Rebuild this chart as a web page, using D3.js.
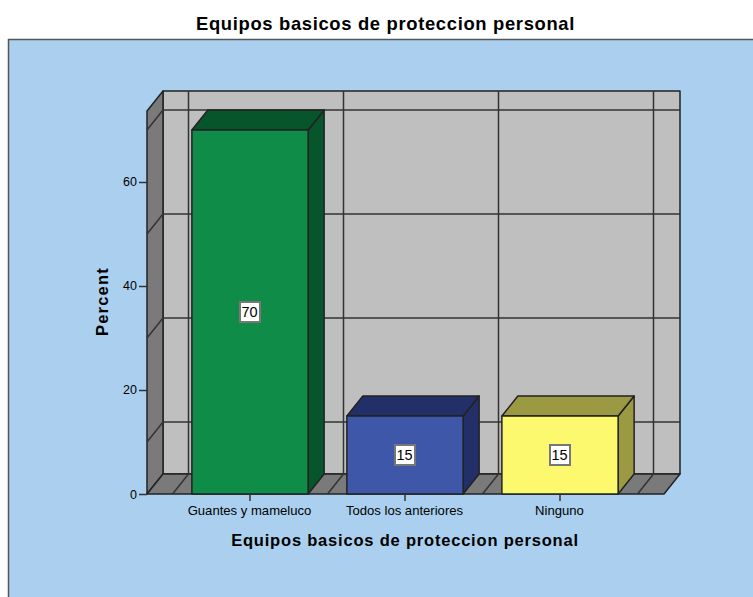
<!DOCTYPE html>
<html><head><meta charset="utf-8">
<script src="https://cdn.jsdelivr.net/npm/d3@7/dist/d3.min.js"></script>
<style>html,body{margin:0;padding:0;background:#fff}svg{display:block}text{font-family:"Liberation Sans",Arial,sans-serif;fill:#000}</style>
</head><body><div id="c"></div>
<script>
const categories = ["Guantes y mameluco","Todos los anteriores","Ninguno"];
const percents = [70,15,15];
const labels = ["70","15","15"];
const yTicks = [0,20,40,60];
const gridValues = [10,30,50,70];
const faceColors = ["#0F8C48","#3F57A8","#FDF96F"];
const topColors = ["#07562B","#222F69","#9C9943"];
const title = "Equipos basicos de proteccion personal";

const W=753,H=597,dx=16,dy=-20;
const svg=d3.select("#c").append("svg").attr("width",W).attr("height",H);
const x=d3.scaleBand().domain(categories).range([172.5,637.5]).paddingInner(.25).paddingOuter(.125);
const y=d3.scaleLinear().domain([0,73.65]).range([494,111]);
const x0=147,x1=664,yb=y(0),yt=y(73.65);
const stroke="#222";
const poly=(pts,fill,sw=1.5,st=stroke)=>svg.append("polygon").attr("points",pts.map(p=>p.join(",")).join(" ")).attr("fill",fill).attr("stroke",st).attr("stroke-width",sw).attr("stroke-linejoin","round");
const line=(a,b,sw=1.5,st="#333")=>svg.append("line").attr("x1",a[0]).attr("y1",a[1]).attr("x2",b[0]).attr("y2",b[1]).attr("stroke",st).attr("stroke-width",sw);

svg.append("rect").attr("x",8.5).attr("y",39.5).attr("width",W).attr("height",H).attr("fill","#ABD0EF").attr("stroke","#555").attr("stroke-width",1.5);
svg.append("text").attr("x",385.5).attr("y",30).attr("text-anchor","middle").attr("font-size",18.4).attr("font-weight","bold").attr("letter-spacing",.67).text(title);

// walls
poly([[x0+dx,yt+dy],[x1+dx,yt+dy],[x1+dx,yb+dy],[x0+dx,yb+dy]],"#BFBFBF");
poly([[x0,yt],[x0+dx,yt+dy],[x0+dx,yb+dy],[x0,yb]],"#7A7A7A");
poly([[x0,yb],[x0+dx,yb+dy],[x1+dx,yb+dy],[x1,yb]],"#7A7A7A");

// gridlines
gridValues.forEach(v=>{
  line([x0+dx,y(v)+dy],[x1+dx,y(v)+dy]);
  line([x0,y(v)],[x0+dx,y(v)+dy]);
});
const edges=[...categories.map(c=>x(c)-x.step()*x.paddingInner()/2),x(categories[2])+x.bandwidth()+x.step()*x.paddingInner()/2];
edges.forEach(e=>{
  line([e+dx,yt+dy],[e+dx,yb+dy]);
  line([e+dx,yb+dy],[e,yb]);
});

// bars
categories.forEach((c,i)=>{
  const l=x(c),r=l+x.bandwidth(),t=y(percents[i]);
  poly([[r,t],[r+dx,t+dy],[r+dx,yb+dy],[r,yb]],topColors[i]);
  poly([[l,t],[l+dx,t+dy],[r+dx,t+dy],[r,t]],topColors[i]);
  poly([[l,t],[r,t],[r,yb],[l,yb]],faceColors[i]);
  const cx=(l+r)/2,cy=(t+yb)/2;
  svg.append("rect").attr("x",cx-10).attr("y",cy-10).attr("width",20).attr("height",20).attr("fill","#fff").attr("stroke","#777").attr("stroke-width",2);
  svg.append("text").attr("x",cx-.5).attr("y",cy+5).attr("text-anchor","middle").attr("font-size",14.5).text(labels[i]);
});

// axes
const gy=svg.append("g").attr("transform",`translate(${x0},0)`).call(d3.axisLeft(y).tickValues(yTicks).tickSize(8).tickSizeOuter(0).tickFormat(d3.format("d")));
gy.select(".domain").remove();
gy.selectAll("line").attr("stroke","#333").attr("stroke-width",1.5);
gy.selectAll("text").attr("font-size",12.5).attr("dx",1).style("font-family",'"Liberation Sans"');
const gx=svg.append("g").attr("transform",`translate(0,${yb})`).call(d3.axisBottom(x).tickSize(7).tickSizeOuter(0).tickPadding(5));
gx.select(".domain").remove();
gx.selectAll("line").attr("stroke","#333").attr("stroke-width",1.5);
gx.selectAll("text").attr("font-size",13.1).attr("dx",-.5).style("font-family",'"Liberation Sans"');
svg.append("text").attr("x",405).attr("y",546).attr("text-anchor","middle").attr("font-size",16.5).attr("font-weight","bold").attr("letter-spacing",.8).text(title);
svg.append("text").attr("transform","translate(108,301.5) rotate(-90)").attr("text-anchor","middle").attr("font-size",16.5).attr("font-weight","bold").attr("letter-spacing",1.2).text("Percent");
</script></body></html>
